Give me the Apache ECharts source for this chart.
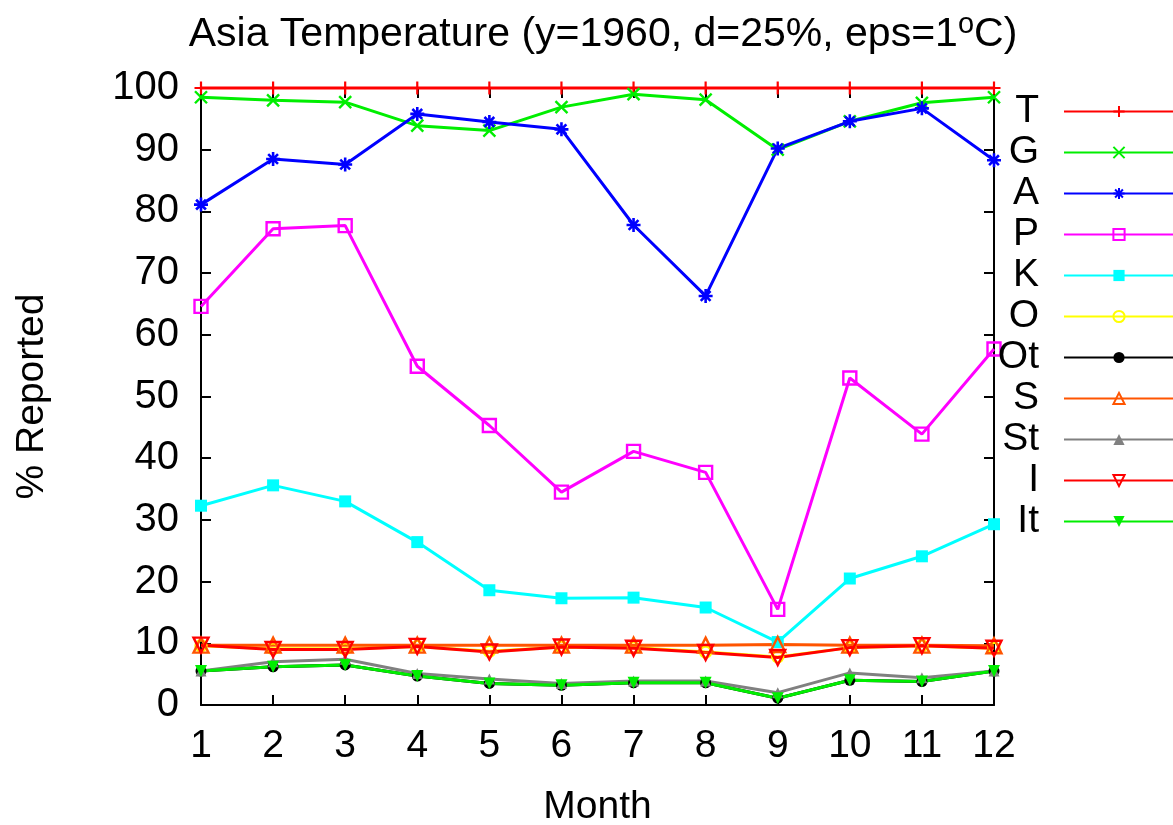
<!DOCTYPE html>
<html>
<head>
<meta charset="utf-8">
<title>Asia Temperature</title>
<script src="https://cdn.jsdelivr.net/npm/echarts@6/dist/echarts.min.js"></script>
<style>
  html, body { margin: 0; padding: 0; background: #fff; }
  #chart { width: 1173px; height: 825px; }
</style>
</head>
<body>
<div id="chart"></div>
<script>
// Monthly share of stations reporting, per element
const months = [1, 2, 3, 4, 5, 6, 7, 8, 9, 10, 11, 12];
const yTicks = [0, 10, 20, 30, 40, 50, 60, 70, 80, 90, 100];

const seriesNames = ['T', 'G', 'A', 'P', 'K', 'O', 'Ot', 'S', 'St', 'I', 'It'];
const valuesT  = [100, 100, 100, 100, 100, 100, 100, 100, 100, 100, 100, 100];
const valuesG  = [98.5, 98.0, 97.7, 93.9, 93.1, 96.9, 99.0, 98.1, 90.0, 94.6, 97.6, 98.5];
const valuesA  = [81.1, 88.5, 87.6, 95.8, 94.5, 93.3, 77.8, 66.3, 90.2, 94.6, 96.7, 88.3];
const valuesP  = [64.6, 77.2, 77.7, 54.9, 45.3, 34.5, 41.1, 37.7, 15.5, 53.0, 43.9, 57.7];
const valuesK  = [32.3, 35.6, 33.0, 26.4, 18.6, 17.3, 17.4, 15.8, 10.2, 20.5, 24.1, 29.3];
const valuesO  = [9.6, 9.1, 9.1, 9.5, 8.7, 9.4, 9.3, 8.6, 7.8, 9.3, 9.6, 9.2];
const valuesOt = [5.5, 6.2, 6.5, 4.7, 3.5, 3.2, 3.6, 3.6, 1.1, 4.0, 3.8, 5.5];
const valuesS  = [9.7, 9.7, 9.7, 9.7, 9.7, 9.7, 9.7, 9.7, 9.8, 9.7, 9.7, 9.6];
const valuesSt = [5.5, 7.0, 7.4, 5.1, 4.2, 3.5, 3.9, 3.9, 2.0, 5.2, 4.4, 5.5];
const valuesI  = [9.7, 9.0, 9.0, 9.5, 8.6, 9.4, 9.2, 8.5, 7.7, 9.3, 9.6, 9.2];
const valuesIt = [5.5, 6.2, 6.5, 4.7, 3.5, 3.2, 3.6, 3.6, 1.1, 4.0, 3.8, 5.5];

const FONT = 'Liberation Sans, Arial, sans-serif';

// point glyphs
const PLUS = 'path://M0,5L10,5M5,0L5,10';
const CROSS = 'path://M0,0L10,10M10,0L0,10';
const STAR = 'path://M0,5L10,5M5,0L5,10M1.5,1.5L8.5,8.5M8.5,1.5L1.5,8.5';

const styles = {
  T:  { color: '#ff0000', symbol: PLUS,  size: 13, hollow: true,  stroke: 2.2 },
  G:  { color: '#00ee00', symbol: CROSS, size: 12, hollow: true,  stroke: 2.4 },
  A:  { color: '#0000ff', symbol: STAR,  size: 14, hollow: true,  stroke: 2.6 },
  P:  { color: '#ff00ff', symbol: 'rect', size: 13, hollow: true, stroke: 2.4 },
  K:  { color: '#00ffff', symbol: 'rect', size: 12, hollow: false },
  O:  { color: '#ffff00', symbol: 'circle', size: 11, hollow: true, stroke: 2.4 },
  Ot: { color: '#000000', symbol: 'circle', size: 11, hollow: false },
  S:  { color: '#ff5500', symbol: 'triangle', size: 15, hollow: true, stroke: 2.4 },
  St: { color: '#808080', symbol: 'triangle', size: 11, hollow: false },
  I:  { color: '#ff0000', symbol: 'triangle', size: 15, hollow: true, stroke: 2.4, rotate: 180 },
  It: { color: '#00ee00', symbol: 'triangle', size: 12, hollow: false, rotate: 180 }
};

const valuesByName = {
  T: valuesT, G: valuesG, A: valuesA, P: valuesP, K: valuesK, O: valuesO,
  Ot: valuesOt, S: valuesS, St: valuesSt, I: valuesI, It: valuesIt
};

const series = seriesNames.map(function (name) {
  const s = styles[name];
  return {
    name: name,
    type: 'line',
    xAxisIndex: 0,
    yAxisIndex: 0,
    clip: false,
    data: months.map(function (m, i) { return [m, valuesByName[name][i]]; }),
    symbol: s.symbol,
    symbolSize: s.size,
    symbolRotate: s.rotate || 0,
    showAllSymbol: true,
    lineStyle: { color: s.color, width: 3 },
    itemStyle: s.hollow
      ? { color: 'rgba(0,0,0,0)', borderColor: s.color, borderWidth: s.stroke }
      : { color: s.color, borderWidth: 0 },
    emphasis: { disabled: true }
  };
});

const axisCommon = {
  type: 'value',
  axisLine: { show: true, onZero: false, lineStyle: { color: '#000', width: 2 } },
  axisTick: { show: true, inside: true, length: 10, lineStyle: { color: '#000', width: 2 } },
  splitLine: { show: false }
};

const chart = echarts.init(document.getElementById('chart'), null, { renderer: 'canvas' });
chart.setOption({
  animation: false,
  backgroundColor: '#ffffff',
  title: {
    text: 'Asia Temperature (y=1960, d=25%, eps=1{sup|o}C)',
    left: 598,
    textAlign: 'center',
    top: 5,
    textStyle: {
      fontFamily: FONT,
      fontSize: 41,
      lineHeight: 50,
      fontWeight: 'normal',
      color: '#000',
      rich: {
        sup: { fontFamily: FONT, fontSize: 29, lineHeight: 17, color: '#000', verticalAlign: 'top' }
      }
    }
  },
  grid: { left: 201, right: 179, top: 88, bottom: 120, containLabel: false, outerBoundsMode: 'none' },
  legend: {
    data: seriesNames,
    orient: 'vertical',
    right: -2,
    top: 91,
    padding: 0,
    itemGap: 0,
    itemWidth: 110,
    itemHeight: 14,
    align: 'right',
    selectedMode: false,
    textStyle: { fontFamily: FONT, fontSize: 39, color: '#000', lineHeight: 41, padding: [0, 20, 0, 0] }
  },
  xAxis: [
    Object.assign({}, axisCommon, {
      position: 'bottom',
      min: 1, max: 12, interval: 1,
      name: 'Month',
      nameLocation: 'middle',
      nameGap: 83,
      nameTextStyle: { fontFamily: FONT, fontSize: 39, color: '#000' },
      axisLabel: { show: true, margin: 22, fontFamily: FONT, fontSize: 39, color: '#000',
        formatter: function (v) { return months.indexOf(v) >= 0 ? String(v) : ''; } }
    }),
    Object.assign({}, axisCommon, {
      position: 'top',
      min: 1, max: 12, interval: 1,
      axisLabel: { show: false }
    })
  ],
  yAxis: [
    Object.assign({}, axisCommon, {
      position: 'left',
      min: 0, max: 100, interval: 10,
      name: '% Reported',
      nameLocation: 'middle',
      nameGap: 149,
      nameTextStyle: { fontFamily: FONT, fontSize: 39, color: '#000' },
      axisLabel: { show: true, margin: 22, fontFamily: FONT, fontSize: 40, color: '#000',
        formatter: function (v) { return yTicks.indexOf(v) >= 0 ? String(v) : ''; } }
    }),
    Object.assign({}, axisCommon, {
      position: 'right',
      min: 0, max: 100, interval: 10,
      axisLabel: { show: false }
    })
  ],
  series: series
});
</script>
</body>
</html>
